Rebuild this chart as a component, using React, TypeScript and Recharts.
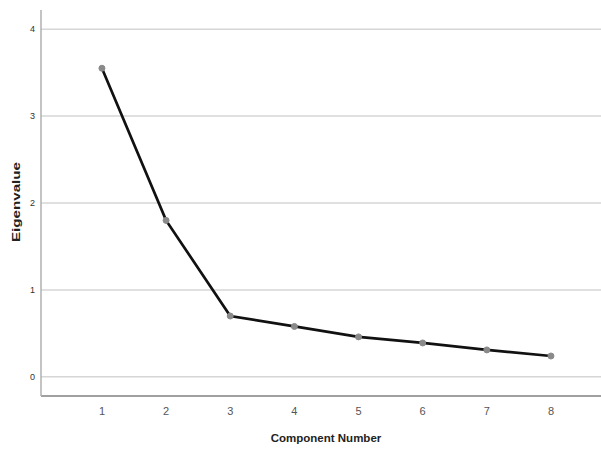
import React from 'react';
import {
  LineChart, Line, XAxis, YAxis, ReferenceLine, Label,
} from 'recharts';

const components: number[] = [1, 2, 3, 4, 5, 6, 7, 8];
const eigenvalues: number[] = [3.55, 1.8, 0.7, 0.58, 0.46, 0.39, 0.31, 0.24];
const yTicks: number[] = [0, 1, 2, 3, 4];

const data = components.map((c, i) => ({ component: c, eigenvalue: eigenvalues[i] }));

const font = 'Arial, "Liberation Sans", sans-serif';

// rotated y title, stretched like the original export
const YTitle = (props: any) => {
  const { viewBox } = props;
  const x = viewBox.x + 19.5;
  const y = viewBox.y + viewBox.height / 2 - 1;
  return (
    <text
      x={x}
      y={y}
      transform={`rotate(-90, ${x}, ${y})`}
      textAnchor="middle"
      fontFamily={font}
      fontSize={11.5}
      fontWeight="bold"
      fill="#222"
      textLength={80}
      lengthAdjust="spacingAndGlyphs"
    >
      Eigenvalue
    </text>
  );
};

export default (): React.ReactElement => {
  return (
    <div style={{ position: 'absolute', left: 0, top: 0, background: '#fff' }}>
      <LineChart
        width={601}
        height={451}
        data={data}
        margin={{ top: 10, right: 0, bottom: 0, left: 0 }}
      >
        {/* horizontal grid at each y tick */}
        {yTicks.map((t) => (
          <ReferenceLine key={t} y={t} stroke="#d6d6d6" strokeWidth={1.5} />
        ))}

        <XAxis
          dataKey="component"
          type="number"
          domain={[0.05, 8.78]}
          ticks={components}
          allowDataOverflow
          height={55}
          tickLine={false}
          tickSize={0}
          tickMargin={11}
          axisLine={{ stroke: '#808080', strokeWidth: 1.5 }}
          tick={{ fontSize: 11, fill: '#555', fontFamily: font }}
        >
          <Label
            value="Component Number"
            position="insideBottom"
            offset={9}
            dx={5}
            style={{ fontSize: 11.5, fontWeight: 'bold', fill: '#222', fontFamily: font }}
          />
        </XAxis>

        <YAxis
          type="number"
          domain={[-0.22, 4.22]}
          ticks={yTicks}
          allowDataOverflow
          width={41}
          tickLine={false}
          tickSize={0}
          tickMargin={6}
          axisLine={{ stroke: '#b0b0b0', strokeWidth: 1.5 }}
          tick={{ fontSize: 9, fill: '#333', fontFamily: font }}
        >
          <Label content={YTitle} />
        </YAxis>

        <Line
          type="linear"
          dataKey="eigenvalue"
          stroke="#111"
          strokeWidth={2.7}
          dot={{ r: 3, fill: '#8a8a8a', stroke: '#8a8a8a', strokeWidth: 1 }}
          activeDot={false}
          isAnimationActive={false}
        />
      </LineChart>
    </div>
  );
}
